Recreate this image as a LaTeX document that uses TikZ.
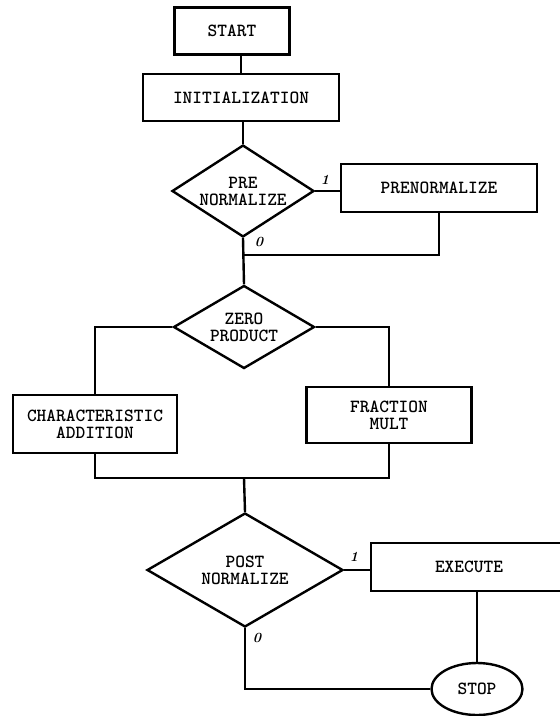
\documentclass[tikz,border=0pt]{standalone}
\usetikzlibrary{shapes.geometric}

\begin{document}
\begin{tikzpicture}[
  x=1pt, y=-1pt,
  every node/.style={font=\fontsize{18.5}{17}\selectfont\ttfamily\bfseries, align=center},
  block/.style={rectangle, draw, line width=2.4pt, minimum width=196pt,
                minimum height=48pt, inner sep=0pt},
  decision/.style={diamond, draw, line width=2.4pt, inner sep=-6pt},
  terminal/.style={ellipse, draw, line width=2.4pt, minimum width=91pt,
                   minimum height=52pt, inner sep=0pt},
  link/.style={line width=2.4pt},
  bit/.style={font=\fontsize{14}{14}\selectfont\bfseries\itshape}
]
  \useasboundingbox (0,0) rectangle (560,716);
  \node[block, minimum width=115pt, minimum height=47pt] (start) at (232,31) {START};
  \node[block, minimum height=47pt] (init) at (241,97.5) {INITIALIZATION};
  \node[decision, minimum width=142pt, minimum height=82pt] (pre) at (243,191) {PRE\\NORMALIZE};
  \node[block] (prenorm) at (439,188) {PRENORMALIZE};
  \node[decision, minimum width=141pt, minimum height=83pt] (zero) at (244,327) {ZERO\\PRODUCT};
  \node[block, minimum width=164pt, minimum height=58pt] (char) at (95,424) {CHARACTERISTIC\\ADDITION};
  \node[block, minimum width=165pt, minimum height=56pt] (frac) at (389,415) {FRACTION\\MULT};
  \node[decision, minimum width=196pt, minimum height=114pt] (post) at (245,570) {POST\\NORMALIZE};
  \node[block] (exec) at (469,567) {EXECUTE};
  \node[terminal] (stop) at (477,689) {STOP};
  \node[bit] (preone) at (325,180) {1};
  \node[bit] (prezero) at (259,242) {0};
  \node[bit] (postone) at (354,557) {1};
  \node[bit] (postzero) at (257,638) {0};
  \coordinate (joinpre) at (244,255);
  \coordinate (joinmul) at (244,478);
  \draw[link] (start.south -| init) -- (init.north);
  \draw[link] (init.south -| pre.north) -- (pre.north);
  \draw[link] (pre.east) -- (pre.east -| prenorm.west);
  \draw[link] (prenorm.south) |- (joinpre);
  \draw[link] (pre.south) -- (zero.north);
  \draw[link] (zero.west) -| (char.north);
  \draw[link] (zero.east) -| (frac.north);
  \draw[link] (char.south) |- (frac.south |- joinmul) -- (frac.south);
  \draw[link] (joinmul) -- (post.north);
  \draw[link] (post.east) -- (post.east -| exec.west);
  \draw[link] (exec.south -| stop.north) -- (stop.north);
  \draw[link] (post.south) |- (stop.west);
\end{tikzpicture}
\end{document}
